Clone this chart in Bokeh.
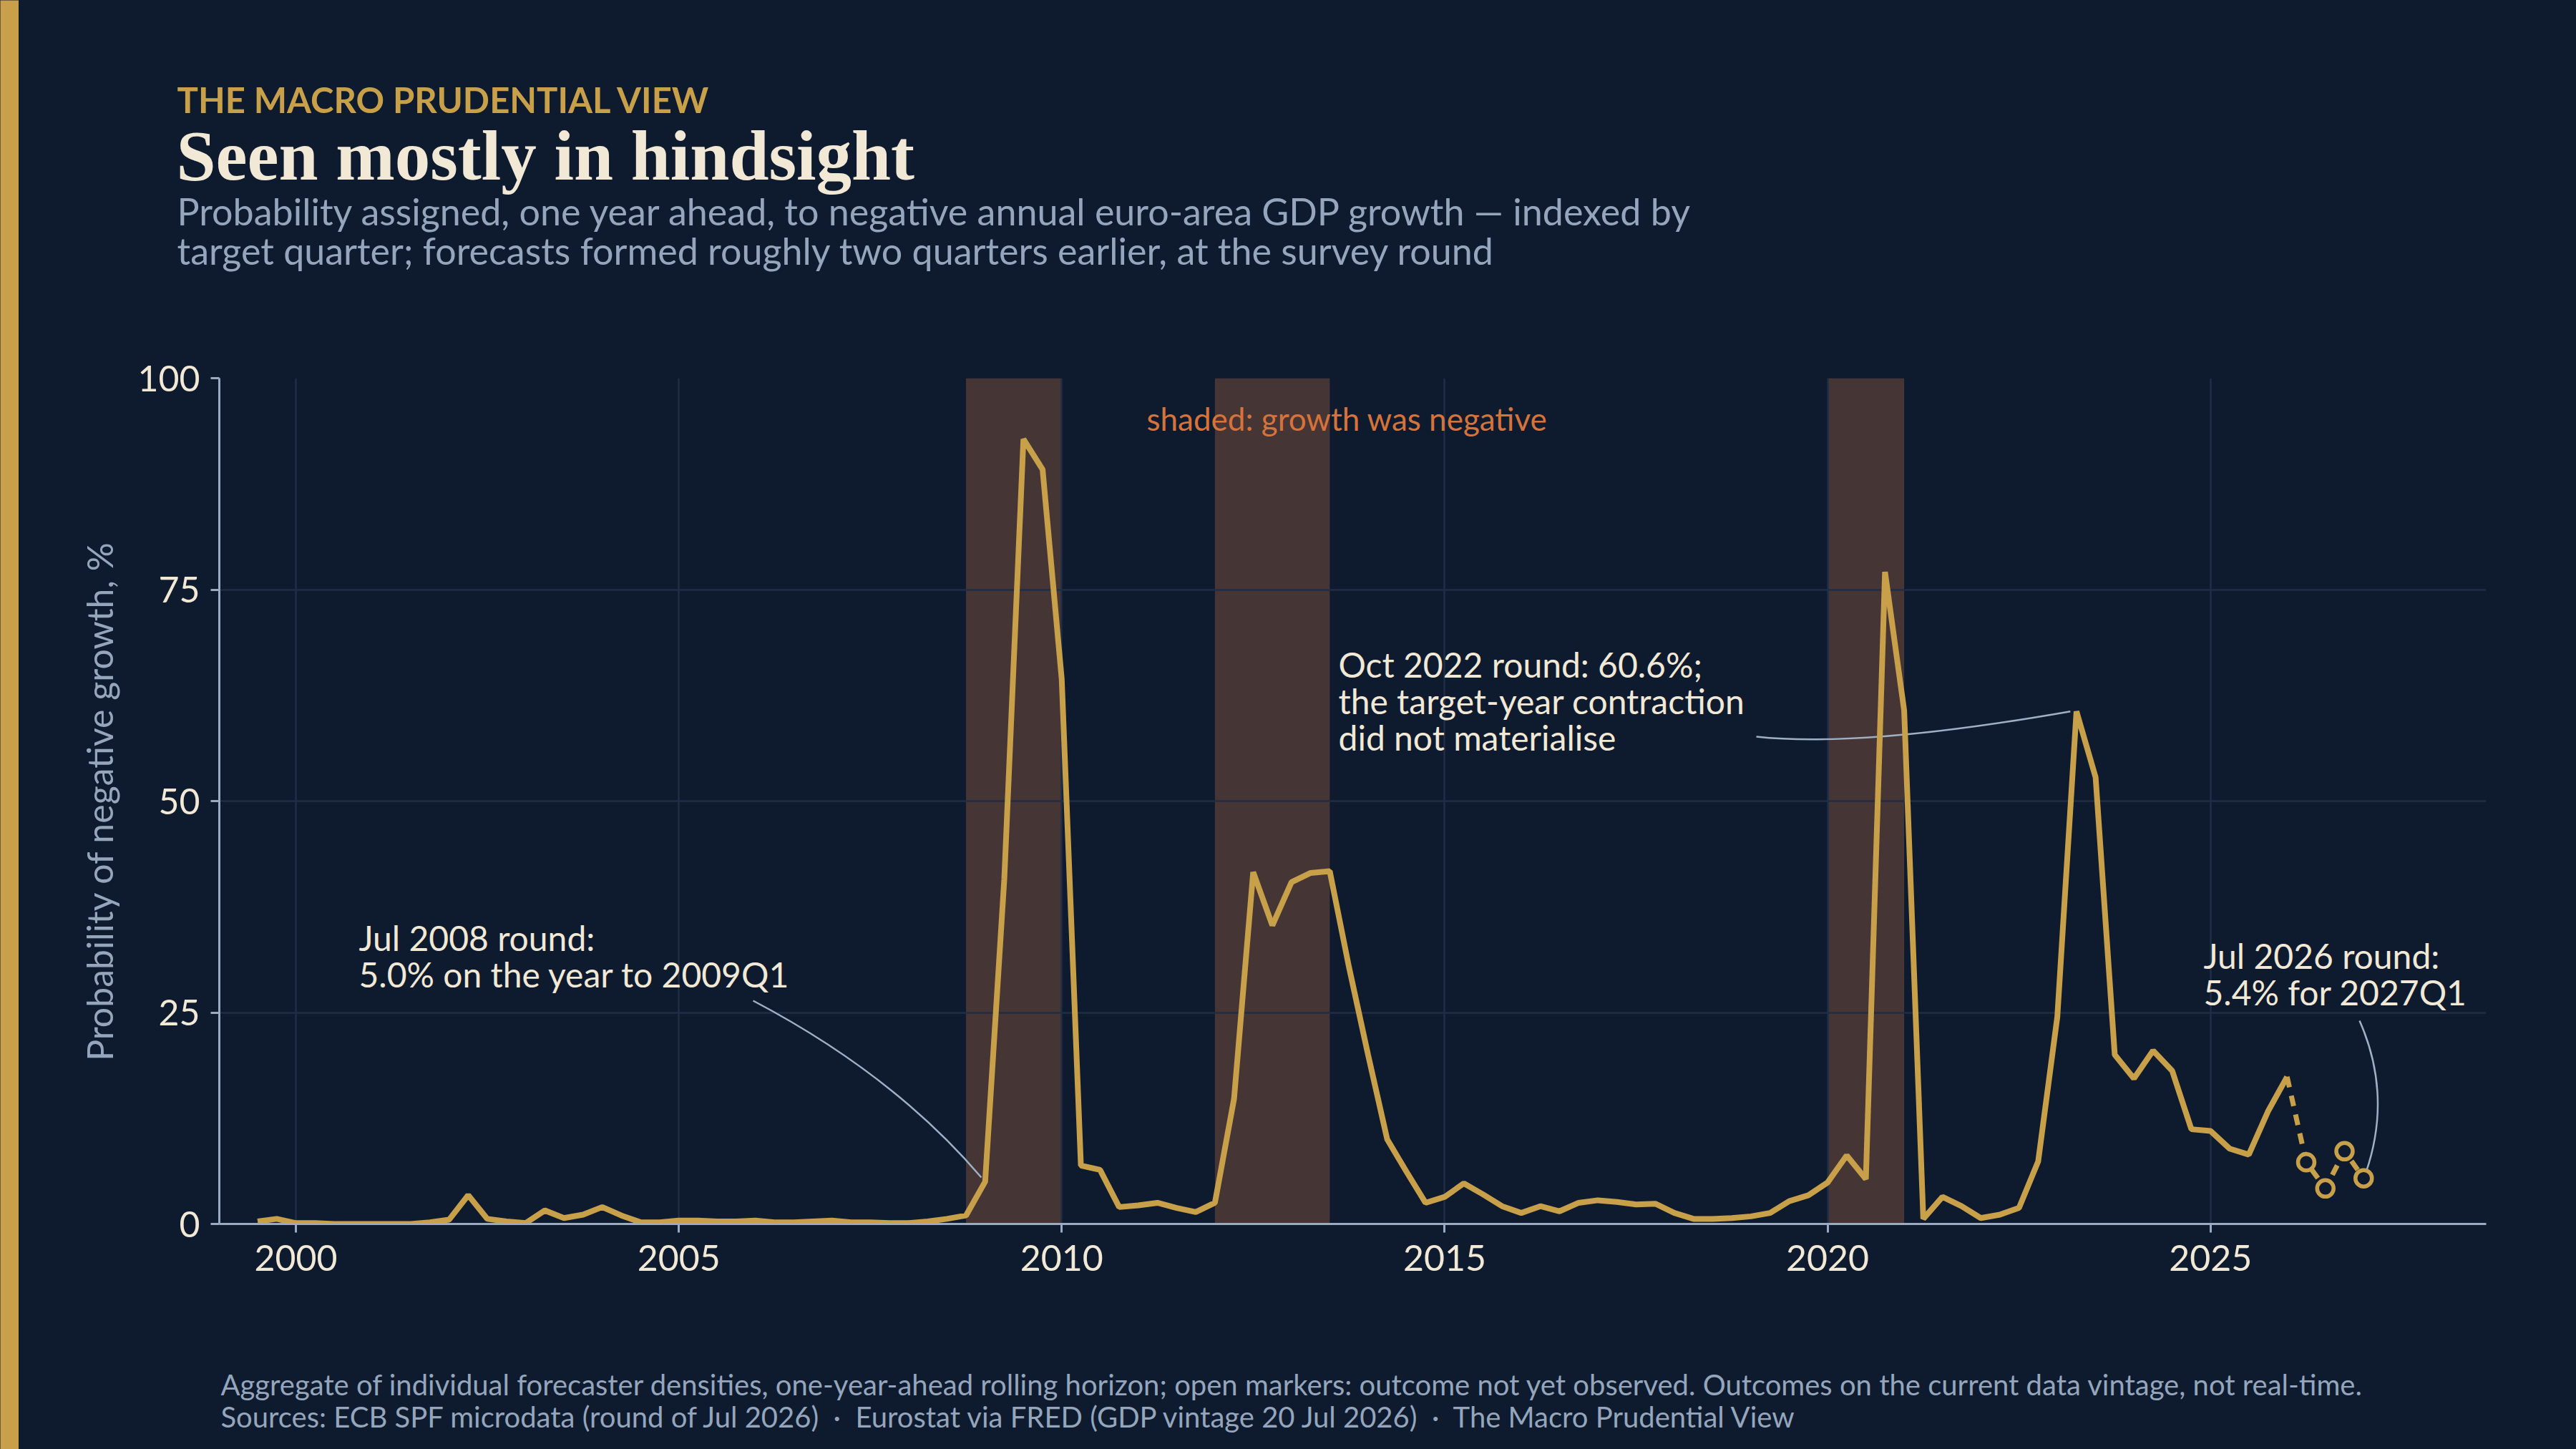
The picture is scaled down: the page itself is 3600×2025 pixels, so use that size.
from bokeh.plotting import figure
from bokeh.models import Range1d, FixedTicker, Label
from bokeh.layouts import row, column
from bokeh.embed import file_html
from bokeh.resources import INLINE

# ---------------- data ----------------
# probability (%) of negative annual euro-area GDP growth, by target quarter,
# starting with target quarter 1999Q3 and ending with 2026Q1 (outcome observed)
first_target_year = 1999
first_target_quarter = 3
prob_negative = [
    0.3, 0.6,                                   # 1999Q3-Q4
    0.1, 0.1, 0.0, 0.0,                         # 2000
    0.0, 0.0, 0.0, 0.2,                         # 2001
    0.5, 3.4, 0.6, 0.3,                         # 2002
    0.1, 1.6, 0.7, 1.1,                         # 2003
    2.0, 1.0, 0.2, 0.2,                         # 2004
    0.4, 0.4, 0.3, 0.3,                         # 2005
    0.4, 0.2, 0.2, 0.3,                         # 2006
    0.4, 0.2, 0.2, 0.1,                         # 2007
    0.1, 0.3, 0.6, 1.0,                         # 2008
    5.0, 40.8, 92.8, 89.2,                      # 2009
    64.4, 6.9, 6.4, 2.0,                        # 2010
    2.2, 2.5, 1.9, 1.4,                         # 2011
    2.5, 14.8, 41.6, 35.3,                      # 2012
    40.4, 41.5, 41.7, 30.4,                     # 2013
    20.0, 10.0, 6.2, 2.5,                       # 2014
    3.2, 4.8, 3.5, 2.1,                         # 2015
    1.3, 2.1, 1.5, 2.5,                         # 2016
    2.8, 2.6, 2.3, 2.4,                         # 2017
    1.3, 0.6, 0.6, 0.7,                         # 2018
    0.9, 1.3, 2.7, 3.4,                         # 2019
    4.9, 8.1, 5.3, 77.1,                        # 2020
    60.7, 0.6, 3.2, 2.1,                        # 2021
    0.7, 1.1, 1.9, 7.4,                         # 2022
    24.5, 60.6, 52.8, 20.0,                     # 2023
    17.2, 20.5, 18.1, 11.2,                     # 2024
    11.0, 8.9, 8.2, 13.3,                       # 2025
    17.4,                                       # 2026Q1
]
# outcome not yet observed (open markers)
forecast_quarters = ["2026Q2", "2026Q3", "2026Q4", "2027Q1"]
forecast_prob = [7.3, 4.2, 8.6, 5.4]

# periods in which growth was negative (shaded)
negative_start = [2008.75, 2012.0, 2020.0]
negative_end = [2010.0, 2013.5, 2021.0]

x_ticks = [2000, 2005, 2010, 2015, 2020, 2025]
y_ticks = [0, 25, 50, 75, 100]

# ---------------- derived positions ----------------
def quarter_pos(year, q):
    return year + (q - 1) / 4.0

xs = []
for i in range(len(prob_negative)):
    k = first_target_quarter - 1 + i
    xs.append(quarter_pos(first_target_year + k // 4, k % 4 + 1))

fx = [quarter_pos(int(s[:4]), int(s[-1])) for s in forecast_quarters]
dash_x = [xs[-1]] + fx
dash_y = [prob_negative[-1]] + forecast_prob

# ---------------- style ----------------
NAVY = "#0e1b2e"
GOLD = "#c9a04a"
CREAM = "#f2e8d6"
MUTED = "#95a6bc"
AXIS = "#9aabc0"
GRID = "#1f2e46"
SHADE = "#463535"
ORANGE = "#d6733a"
LEADER = "#9fb0c5"

PAGE_W, PAGE_H = 3600, 2025
BAR_W = 26
MAIN_W = PAGE_W - BAR_W
HEAD_BOTTOM = 470        # header panel: page y 0..470
FOOT_TOP = 1850          # footer panel: page y 1850..2025
X0, X1 = 1999.0, 2028.6
Y0, Y1 = 0, 100
FL, FR, FT, FB = 306, 3474, 528, 1710   # plot frame in page pixels


def dx(px):
    return X0 + (px - FL) * (X1 - X0) / (FR - FL)


def dy(py):
    return Y0 + (FB - py) * (Y1 - Y0) / (FB - FT)


def base_fix(size):
    # empirical shift so that the rendered baseline lands on the wanted pixel row
    return 5 + 0.26 * size


def no_align(fig):
    try:
        fig.frame_align = False
    except Exception:
        pass


def text_panel(top, bottom):
    f = figure(width=MAIN_W, height=bottom - top,
               x_range=Range1d(BAR_W, PAGE_W), y_range=Range1d(bottom, top),
               toolbar_location=None, output_backend="svg",
               x_axis_type=None, y_axis_type=None, min_border=0,
               background_fill_color=NAVY, border_fill_color=NAVY,
               outline_line_color=None)
    f.xgrid.visible = False
    f.ygrid.visible = False
    no_align(f)
    return f


def add_text(fig, text, x, y, size, color, font="Lato", style="normal"):
    fig.add_layout(Label(x=x, y=y, text=text, text_font=font,
                         text_font_size=f"{size}px", text_font_style=style,
                         text_color=color, text_align="left",
                         text_baseline="alphabetic"))


def panel_text(fig, text, px, py, size, color, font="Lato", style="normal"):
    add_text(fig, text, px, py - base_fix(size), size, color, font, style)


# ---------------- header ----------------
head = text_panel(0, HEAD_BOTTOM)
panel_text(head, "THE MACRO PRUDENTIAL VIEW", 247, 156, 49, GOLD, style="bold")
panel_text(head, "Seen mostly in hindsight", 246, 248, 99, CREAM,
           font="Liberation Serif", style="bold")
panel_text(head, "Probability assigned, one year ahead, to negative annual euro-area GDP growth \u2014 indexed by",
           247, 313, 52, MUTED)
panel_text(head, "target quarter; forecasts formed roughly two quarters earlier, at the survey round",
           247, 368, 52, MUTED)

# ---------------- main chart ----------------
p = figure(
    width=MAIN_W, height=FOOT_TOP - HEAD_BOTTOM,
    x_range=Range1d(X0, X1), y_range=Range1d(Y0, Y1),
    toolbar_location=None, output_backend="svg",
    background_fill_color=NAVY, border_fill_color=NAVY,
    outline_line_color=None,
    min_border_left=FL - BAR_W, min_border_right=PAGE_W - FR,
    min_border_top=FT - HEAD_BOTTOM, min_border_bottom=FOOT_TOP - FB,
)
no_align(p)

p.xaxis.ticker = FixedTicker(ticks=x_ticks)
p.yaxis.ticker = FixedTicker(ticks=y_ticks)
for ax in (p.xaxis, p.yaxis):
    ax.axis_line_color = AXIS
    ax.axis_line_width = 3
    ax.major_tick_line_color = AXIS
    ax.major_tick_line_width = 3
    ax.major_tick_out = 12
    ax.major_tick_in = 0
    ax.minor_tick_line_color = None
    ax.major_label_text_font = "Lato"
    ax.major_label_text_font_size = "50px"
    ax.major_label_text_color = CREAM
p.xaxis.major_label_standoff = 17
p.yaxis.major_label_standoff = 15
p.yaxis.axis_label = "Probability of negative growth, %"
p.yaxis.axis_label_text_font = "Lato"
p.yaxis.axis_label_text_font_size = "50px"
p.yaxis.axis_label_text_font_style = "normal"
p.yaxis.axis_label_text_color = MUTED
p.yaxis.axis_label_standoff = 20

p.xgrid.grid_line_color = GRID
p.ygrid.grid_line_color = GRID
p.xgrid.grid_line_width = 2.5
p.ygrid.grid_line_width = 2.5

# shaded negative-growth periods
p.quad(left=negative_start, right=negative_end, bottom=Y0, top=Y1,
       fill_color=SHADE, line_color=None, level="image")

# leader lines for annotations (quadratic curves)
i08 = xs.index(2009.0)
i22 = xs.index(2023.25)
p.quadratic(
    x0=[dx(1052), dx(2454), dx(3297)],
    y0=[dy(1398), dy(1029), dy(1426)],
    cx=[dx(1248), dx(2600), dx(3343)],
    cy=[dy(1501), dy(1045), dy(1530)],
    x1=[xs[i08] - 0.05, xs[i22] - 0.08, fx[-1] + 0.03],
    y1=[prob_negative[i08] + 0.5, prob_negative[i22], forecast_prob[-1] + 0.7],
    line_color=LEADER, line_width=2.5,
)

# series
p.line(xs, prob_negative, line_color=GOLD, line_width=8)
p.line(dash_x, dash_y, line_color=GOLD, line_width=7, line_dash="15 12")
p.scatter(fx, forecast_prob, marker="circle", size=23,
          fill_color=NAVY, line_color=GOLD, line_width=5.5)


def plot_text(text, px, py, size, color):
    add_text(p, text, dx(px), dy(py - base_fix(size)), size, color)


plot_text("shaded: growth was negative", 1602, 601, 44, ORANGE)
plot_text("Jul 2008 round:", 501, 1327, 48, CREAM)
plot_text("5.0% on the year to 2009Q1", 501, 1378, 48, CREAM)
plot_text("Oct 2022 round: 60.6%;", 1870, 945, 48, CREAM)
plot_text("the target-year contraction", 1870, 996, 48, CREAM)
plot_text("did not materialise", 1870, 1047, 48, CREAM)
plot_text("Jul 2026 round:", 3079, 1352, 48, CREAM)
plot_text("5.4% for 2027Q1", 3079, 1403, 48, CREAM)

# ---------------- footer ----------------
SEP = " \u00a0\u00b7\u00a0 "
foot = text_panel(FOOT_TOP, PAGE_H)
panel_text(foot, "Aggregate of individual forecaster densities, one-year-ahead rolling horizon; open markers: "
           "outcome not yet observed. Outcomes on the current data vintage, not real-time.",
           308, 1950, 40, MUTED)
panel_text(foot, "Sources: ECB SPF microdata (round of Jul 2026)" + SEP +
           "Eurostat via FRED (GDP vintage 20 Jul 2026)" + SEP + "The Macro Prudential View",
           308, 1995, 40, MUTED)

# ---------------- gold bar + assembly ----------------
bar = figure(width=BAR_W, height=PAGE_H, toolbar_location=None, output_backend="svg",
             x_axis_type=None, y_axis_type=None, min_border=0,
             background_fill_color=GOLD, border_fill_color=GOLD,
             outline_line_color=None)
bar.xgrid.visible = False
bar.ygrid.visible = False
no_align(bar)

layout = row(bar, column(head, column(p, spacing=0), foot, spacing=0), spacing=0)

html = file_html(layout, INLINE, title="Seen mostly in hindsight")
html = html.replace(
    "<head>",
    "<head><style>html,body{margin:0;padding:0;background:#0e1b2e;overflow:hidden;}</style>",
    1,
)
open("out.html", "w").write(html)
